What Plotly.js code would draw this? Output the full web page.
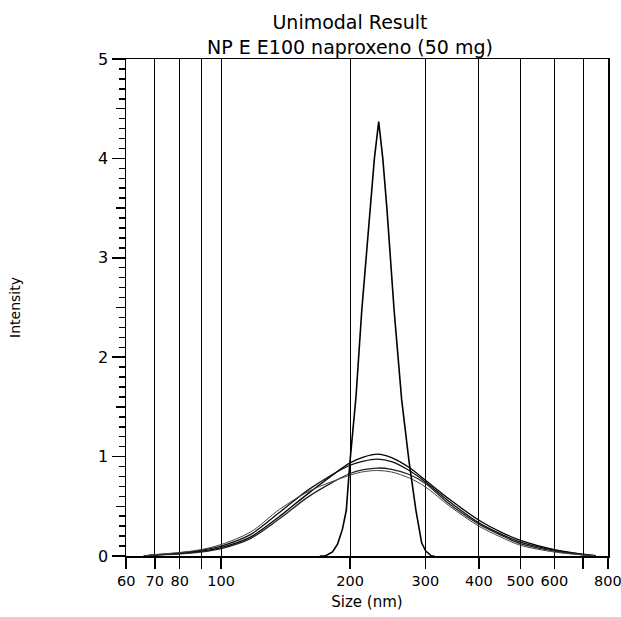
<!DOCTYPE html>
<html>
<head>
<meta charset="utf-8">
<script src="https://cdn.plot.ly/plotly-3.0.1.min.js"></script>
<style>html,body{margin:0;padding:0;background:#fff;}#chart{width:621px;height:617px;}</style>
</head>
<body>
<div id="chart"></div>
<script>
// Narrow peak (one measurement)
const sizesNarrow = [170, 175, 182, 187, 192, 196, 200, 206.5, 213, 222.5, 228, 233.3, 238.5, 244, 253.5, 264, 274.5, 285, 294, 300.5, 310, 315];
const intensityNarrow = [0, 0, 0.04, 0.12, 0.27, 0.46, 0.96, 1.6, 2.47, 3.48, 4.0, 4.37, 4.0, 3.48, 2.47, 1.57, 0.96, 0.46, 0.13, 0.05, 0, 0];

// Broad distributions (four measurements)
const sizesBroad = [66, 70, 80, 90, 100, 117, 137, 161, 200, 215, 232, 250, 275, 300, 342, 400, 450, 500, 600, 700, 750];
const intensityRun1 = [0, 0.01, 0.025, 0.048, 0.085, 0.19, 0.4, 0.64, 0.937, 0.995, 1.024, 0.99, 0.89, 0.762, 0.568, 0.36, 0.24, 0.158, 0.065, 0.018, 0.003];
const intensityRun2 = [0, 0.012, 0.03, 0.058, 0.1, 0.215, 0.44, 0.675, 0.913, 0.955, 0.975, 0.95, 0.86, 0.745, 0.544, 0.333, 0.22, 0.14, 0.058, 0.014, 0.002];
const intensityRun3 = [0, 0.008, 0.022, 0.042, 0.075, 0.175, 0.377, 0.605, 0.83, 0.868, 0.885, 0.872, 0.82, 0.73, 0.52, 0.32, 0.21, 0.125, 0.05, 0.012, 0.002];
const intensityRun4 = [0, 0.014, 0.035, 0.065, 0.115, 0.24, 0.47, 0.655, 0.813, 0.848, 0.86, 0.845, 0.785, 0.695, 0.50, 0.30, 0.19, 0.108, 0.04, 0.01, 0.001];

const xTickVals = [60, 70, 80, 90, 100, 200, 300, 400, 500, 600, 700, 800];
const xTickText = ['60', '70', '80', '', '100', '200', '300', '400', '500', '600', '', '800'];
const yMidTicks = [0.5, 1.5, 2.5, 3.5, 4.5];

const FONT = 'DejaVu Sans, Arial, sans-serif';

const broadRuns = [intensityRun1, intensityRun2, intensityRun3, intensityRun4];
const broadColors = ['#000000', '#111111', '#222222', '#444444'];
const traces = broadRuns.map((ys, i) => ({
  x: sizesBroad, y: ys, type: 'scatter', mode: 'lines',
  line: {color: broadColors[i], width: i === 3 ? 1 : 1.3, shape: 'spline', smoothing: 0.9},
  hoverinfo: 'skip', showlegend: false
}));
traces.push({
  x: sizesNarrow, y: intensityNarrow, type: 'scatter', mode: 'lines',
  line: {color: '#000000', width: 1.6},
  hoverinfo: 'skip', showlegend: false
});
traces.push({x: [], y: [], yaxis: 'y2', type: 'scatter', mode: 'lines', showlegend: false, hoverinfo: 'skip'});

const layout = {
  width: 621, height: 617,
  margin: {l: 126, r: 13, t: 59, b: 61},
  paper_bgcolor: '#ffffff', plot_bgcolor: '#ffffff',
  font: {family: FONT, color: '#000000', size: 15},
  showlegend: false,
  title: {
    text: 'Unimodal Result<br>NP E E100 naproxeno (50 mg)',
    font: {family: FONT, size: 19, color: '#000000'},
    xref: 'container', x: 0.5636, xanchor: 'center',
    yref: 'container', y: 0.953, yanchor: 'top'
  },
  xaxis: {
    type: 'log',
    range: [Math.log10(60) - 0.0003, Math.log10(800) + 0.0003],
    tickmode: 'array', tickvals: xTickVals, ticktext: xTickText,
    ticks: 'outside', ticklen: 11, tickwidth: 1.5, tickcolor: '#000',
    ticklabeloverflow: 'allow',
    showgrid: true, gridcolor: '#000000', gridwidth: 1,
    showline: true, linecolor: '#000', linewidth: 1.5, mirror: true,
    zeroline: false,
    tickfont: {family: FONT, size: 14.5, color: '#000'},
    title: {text: 'Size (nm)', font: {family: FONT, size: 15, color: '#000'}, standoff: 8}
  },
  yaxis: {
    range: [0, 5],
    tickmode: 'linear', tick0: 0, dtick: 1,
    ticks: 'outside', ticklen: 13, tickwidth: 1.5, tickcolor: '#000',
    minor: {dtick: 0.1, ticklen: 6, tickwidth: 1.5, tickcolor: '#000', ticks: 'outside', showgrid: false},
    showgrid: false, zeroline: false,
    showline: true, linecolor: '#000', linewidth: 1.5, mirror: true,
    tickfont: {family: FONT, size: 16, color: '#000'},
    title: {text: 'Intensity', font: {family: FONT, size: 14, color: '#000'}, standoff: 74}
  },
  yaxis2: {
    overlaying: 'y', side: 'left', anchor: 'x',
    range: [0, 5],
    tickmode: 'array', tickvals: yMidTicks, showticklabels: false,
    ticks: 'outside', ticklen: 9, tickwidth: 1.5, tickcolor: '#000',
    showgrid: false, zeroline: false, showline: false
  }
};

Plotly.newPlot('chart', traces, layout, {displayModeBar: false, staticPlot: true});
</script>
</body>
</html>
